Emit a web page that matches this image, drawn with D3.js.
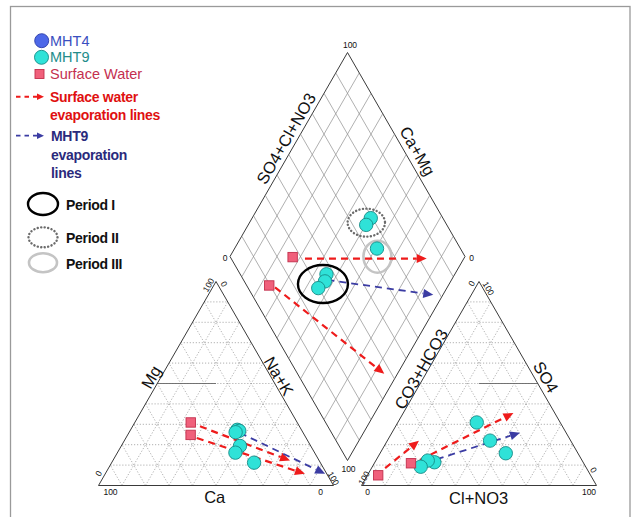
<!DOCTYPE html>
<html>
<head>
<meta charset="utf-8">
<script src="https://cdn.jsdelivr.net/npm/d3@7"></script>
<style>
  html, body { margin: 0; padding: 0; background: #fff; }
  svg { display: block; }
</style>
</head>
<body>
<svg id="piper" width="634" height="517"></svg>
<script>
// ---------------------------------------------------------------
// Data (percent of meq/L)
// ---------------------------------------------------------------
// MHT9 samples, grouped by sampling period
const samplePeriod = ["I", "I", "I", "II", "II", "III"];
const sampleCa   = [27.3, 26.7, 28.6, 30.1, 33.7, 28.2];
const sampleMg   = [27.3, 26.8, 26.1, 19.4, 16.1, 11.2];
const sampleNaK  = [45.4, 46.5, 45.3, 50.5, 50.2, 60.6];
const sampleHCO3 = [63.3, 65.7, 70.2, 30.7, 34.3, 35.5];
const sampleSO4  = [11.4, 12.2,  9.2, 15.8, 22.0, 30.9];
const sampleCl   = [25.3, 22.1, 20.6, 53.5, 43.7, 33.6];

// MHT4 samples (none plotted in this figure)
const mht4Ca = [], mht4Mg = [], mht4NaK = [], mht4HCO3 = [], mht4SO4 = [], mht4Cl = [];

// Surface water samples
const swCa   = [45.3, 48.4];
const swMg   = [30.9, 24.8];
const swNaK  = [23.8, 26.8];
const swHCO3 = [90.4, 73.5];
const swSO4  = [ 5.0, 10.9];
const swCl   = [ 4.6, 15.6];

// Evaporation trends: [start, end]
// cation triangle: [Mg, Na+K]
const cationEvapSW   = [[[29.0, 28.7], [12.2, 75.4]], [[23.3, 30.2], [5.7, 85.0]]];
const cationEvapMHT9 = [[[25.8, 47.3], [5.7, 93.6]]];
// anion triangle: [SO4, Cl+NO3]
const anionEvapSW    = [[[8.5, 5.8], [21.9, 13.5]], [[12.5, 18.6], [35.5, 46.9]]];
const anionEvapMHT9  = [[[12.9, 25.6], [25.9, 54.5]]];
// diamond: [SO4+Cl+NO3, Ca+Mg]
const diamondEvapSW   = [[[31.4, 67.6], [83.2, 15.8]], [[11.6, 73.3], [36.9, 5.6]]];
const diamondEvapMHT9 = [[[35.7, 52.8], [77.1, 4.1]]];

// Sampling periods, centred in diamond space [SO4+Cl+NO3, Ca+Mg]
const periodNames   = ["Period I", "Period II", "Period III"];
const periodCenters = [[32.8, 53.7], [66.3, 50.3], [62.7, 37.2]];

// Axis titles and end labels
const cationTitles  = ["Mg", "Na+K", "Ca"];
const anionTitles   = ["CO3+HCO3", "SO4", "Cl+NO3"];
const diamondTitles = ["SO4+Cl+NO3", "Ca+Mg"];
const endLabels     = ["0", "100"];
const gridSteps     = d3.range(10, 100, 10);

// ---------------------------------------------------------------
// Layout
// ---------------------------------------------------------------
const svg = d3.select("#piper");
const side = 235, tall = 204;
const baseY = 485.5;
const leftX0 = 98.5, rightX0 = 361.5;
const dX = 347.5, dY = 460.5;           // lower vertex of the diamond

const across = d3.scaleLinear().domain([0, 100]).range([0, side]);
const up     = d3.scaleLinear().domain([0, 100]).range([0, tall]);

const cationXY  = (mg, na) => [leftX0 + across(na + mg / 2), baseY - up(mg)];
const anionXY   = (so4, cl) => [rightX0 + across(cl + so4 / 2), baseY - up(so4)];
const diamondXY = (a, c) => [dX + across((a - c) / 2), dY - up(a + c)];

const FONT = "'Liberation Sans', Arial, sans-serif";
const line = d3.line();

// frame
svg.append("rect").attr("x", 10.5).attr("y", 6.5).attr("width", 619.5).attr("height", 520)
  .attr("fill", "none").attr("stroke", "#9a9a9a").attr("stroke-width", 1.3);

const gGrid = svg.append("g");
const gFacies = svg.append("g");
const gFrame = svg.append("g");

// ---- triangle grids (dotted, every 10 %)
function triangleGrid(toXY) {
  gridSteps.forEach(k => {
    // constant vertical component
    gGrid.append("path").attr("d", line([toXY(k, 0), toXY(k, 100 - k)]));
    // constant right-corner component
    gGrid.append("path").attr("d", line([toXY(0, k), toXY(100 - k, k)]));
    // constant left-corner component
    const r = 100 - k;
    gGrid.append("path").attr("d", line([toXY(0, r), toXY(r, 0)]));
  });
}
triangleGrid(cationXY);
triangleGrid(anionXY);
gGrid.selectAll("path").attr("fill", "none").attr("stroke", "#9c9c9c")
  .attr("stroke-width", 0.8).attr("stroke-dasharray", "1.2,1.8");

// ---- diamond grid (solid, every 10 %)
const gDiaGrid = svg.append("g");
gridSteps.forEach(k => {
  gDiaGrid.append("path").attr("d", line([diamondXY(k, 0), diamondXY(k, 100)]));
  gDiaGrid.append("path").attr("d", line([diamondXY(0, k), diamondXY(100, k)]));
});
gDiaGrid.selectAll("path").attr("fill", "none").attr("stroke", "#8e8e8e").attr("stroke-width", 0.7);

// ---- half facies lines at 50 %
gFacies.append("path").attr("d", line([cationXY(50, 0), cationXY(50, 25)]));
gFacies.append("path").attr("d", line([anionXY(50, 25), anionXY(50, 50)]));
gFacies.selectAll("path").attr("fill", "none").attr("stroke", "#666").attr("stroke-width", 0.9);

// ---- outlines
gFrame.append("path").attr("d", line([cationXY(0, 0), cationXY(0, 100), cationXY(100, 0)]) + "Z");
gFrame.append("path").attr("d", line([anionXY(0, 0), anionXY(0, 100), anionXY(100, 0)]) + "Z");
gFrame.append("path").attr("d", line([diamondXY(0, 0), diamondXY(100, 0), diamondXY(100, 100), diamondXY(0, 100)]) + "Z");
gFrame.selectAll("path").attr("fill", "none").attr("stroke", "#3a3a3a").attr("stroke-width", 1);

// ---- axis titles
const gText = svg.append("g").attr("font-family", FONT).attr("fill", "#111");
function label(txt, x, y, rot, size) {
  gText.append("text").attr("transform", `translate(${x},${y}) rotate(${rot})`)
    .attr("text-anchor", "middle").attr("dominant-baseline", "central")
    .attr("font-size", size).text(txt);
}
label(cationTitles[0], 151, 377, -60, 16.5);
label(cationTitles[1], 279, 376, 60, 16.5);
label(cationTitles[2], 214.7, 497, 0, 16.5);
label(anionTitles[0], 421, 369, -60, 16.5);
label(anionTitles[1], 546, 377, 60, 16.5);
label(anionTitles[2], 478.7, 497.5, 0, 16.5);
label(diamondTitles[0], 286, 138.5, -60, 16.5);
label(diamondTitles[1], 417.5, 151, 60, 16.5);

// ---- end labels
const tick = (i, x, y, rot) => label(endLabels[i], x, y, rot, 8.5);
// cation triangle
tick(1, 110.5, 491.5, 0); tick(0, 320.5, 491.5, 0);
tick(0, 98.5, 473.5, -60); tick(1, 333.5, 478.5, 60);
tick(1, 208.5, 285, -60); tick(0, 224, 284, 60);
// anion triangle
tick(0, 367.5, 491.5, 0); tick(1, 589, 491.5, 0);
tick(1, 364, 478, -60); tick(0, 593.5, 470, 60);
tick(0, 471.5, 283.5, -60); tick(1, 488.5, 288.5, 60);
// diamond
tick(1, 350, 44.5, 0); tick(0, 225, 257.5, 0);
tick(0, 471.5, 257.5, 0); tick(1, 348.5, 469, 0);

// ---- period ellipses
const periodStyles = [
  { rx: 25, ry: 19, stroke: "#000", width: 2.4, dash: null },
  { rx: 18.7, ry: 14, stroke: "#6b6b6b", width: 2.4, dash: "0.1,3.4" },
  { rx: 14, ry: 16, stroke: "#c4c4c4", width: 2.6, dash: null }
];
periodCenters.forEach((c, i) => {
  const [x, y] = diamondXY(c[0], c[1]);
  const st = periodStyles[i];
  svg.append("ellipse").attr("cx", x).attr("cy", y).attr("rx", st.rx).attr("ry", st.ry)
    .attr("fill", "none").attr("stroke", st.stroke).attr("stroke-width", st.width)
    .attr("stroke-linecap", "round").attr("stroke-dasharray", st.dash);
});

// ---- evaporation arrows
const RED = "#ee1b1b", NAVY = "#3b3ca3";
function arrow(g, p0, p1, color, width, head, halfW) {
  const dx = p1[0] - p0[0], dy = p1[1] - p0[1];
  const len = Math.hypot(dx, dy), ux = dx / len, uy = dy / len;
  const bx = p1[0] - ux * head, by = p1[1] - uy * head;
  g.append("path").attr("d", line([p0, [bx, by]]))
    .attr("stroke", color).attr("stroke-width", width).attr("fill", "none")
    .attr("stroke-dasharray", "7,5");
  g.append("path").attr("d", line([p1, [bx - uy * halfW, by + ux * halfW], [bx + uy * halfW, by - ux * halfW]]) + "Z")
    .attr("fill", color).attr("stroke", "none");
}
const gArrows = svg.append("g");
const drawSet = (set, toXY, color, w) => set.forEach(([a, b]) =>
  arrow(gArrows, toXY(a[0], a[1]), toXY(b[0], b[1]), color, w, 10, 4.5));
drawSet(cationEvapSW, cationXY, RED, 2.2);
drawSet(cationEvapMHT9, cationXY, NAVY, 1.8);
drawSet(anionEvapSW, anionXY, RED, 2.2);
drawSet(anionEvapMHT9, anionXY, NAVY, 1.8);
drawSet(diamondEvapSW, diamondXY, RED, 2.2);
drawSet(diamondEvapMHT9, diamondXY, NAVY, 1.8);

// ---- samples
const CYAN = "#2fe2d8", CYAN_EDGE = "#168b87";
const BLUE = "#4d68e8", BLUE_EDGE = "#2b3ca8";
const PINK = "#f0607b", PINK_EDGE = "#c22f4c";
const gPts = svg.append("g");

function plotCircles(ca, mg, na, hco3, so4, cl, fill, edge) {
  ca.forEach((_, i) => {
    const pts = [cationXY(mg[i], na[i]), anionXY(so4[i], cl[i]),
                 diamondXY(so4[i] + cl[i], ca[i] + mg[i])];
    pts.forEach(p => gPts.append("circle").attr("cx", p[0]).attr("cy", p[1]).attr("r", 6.7)
      .attr("fill", fill).attr("stroke", edge).attr("stroke-width", 0.9));
  });
}
plotCircles(mht4Ca, mht4Mg, mht4NaK, mht4HCO3, mht4SO4, mht4Cl, BLUE, BLUE_EDGE);
plotCircles(sampleCa, sampleMg, sampleNaK, sampleHCO3, sampleSO4, sampleCl, CYAN, CYAN_EDGE);

swCa.forEach((_, i) => {
  const pts = [cationXY(swMg[i], swNaK[i]), anionXY(swSO4[i], swCl[i]),
               diamondXY(swSO4[i] + swCl[i], swCa[i] + swMg[i])];
  pts.forEach(p => gPts.append("rect").attr("x", p[0] - 4.7).attr("y", p[1] - 4.7)
    .attr("width", 9.4).attr("height", 9.4)
    .attr("fill", PINK).attr("stroke", PINK_EDGE).attr("stroke-width", 0.9));
});

// ---------------------------------------------------------------
// Legend
// ---------------------------------------------------------------
const gLeg = svg.append("g").attr("font-family", FONT);
gLeg.append("circle").attr("cx", 41.7).attr("cy", 40.7).attr("r", 7)
  .attr("fill", BLUE).attr("stroke", BLUE_EDGE).attr("stroke-width", 0.9);
gLeg.append("text").attr("x", 50).attr("y", 45.7).attr("font-size", 14.5).attr("fill", "#3a4fc0").text("MHT4");
gLeg.append("circle").attr("cx", 41.5).attr("cy", 57.3).attr("r", 7)
  .attr("fill", CYAN).attr("stroke", CYAN_EDGE).attr("stroke-width", 0.9);
gLeg.append("text").attr("x", 50).attr("y", 62.3).attr("font-size", 14.5).attr("fill", "#238c8a").text("MHT9");
gLeg.append("rect").attr("x", 35).attr("y", 69.5).attr("width", 9).attr("height", 9)
  .attr("fill", PINK).attr("stroke", PINK_EDGE).attr("stroke-width", 0.9);
gLeg.append("text").attr("x", 50).attr("y", 79).attr("font-size", 14.5).attr("fill", "#c4304f").text("Surface Water");

function legendArrow(y, color, w) {
  gLeg.append("path").attr("d", line([[16, y], [37, y]])).attr("stroke", color)
    .attr("stroke-width", w).attr("stroke-dasharray", "4.5,4").attr("fill", "none");
  gLeg.append("path").attr("d", line([[44, y], [37, y - 3.3], [37, y + 3.3]]) + "Z").attr("fill", color);
}
legendArrow(96.7, RED, 2);
gLeg.append("text").attr("x", 50).attr("y", 101.5).attr("font-size", 14).attr("font-weight", "bold")
  .attr("fill", "#e01010").attr("letter-spacing", -0.3).text("Surface water");
gLeg.append("text").attr("x", 50).attr("y", 120).attr("font-size", 14).attr("font-weight", "bold")
  .attr("fill", "#e01010").attr("letter-spacing", -0.3).text("evaporation lines");
legendArrow(135.7, NAVY, 1.8);
["MHT9", "evaporation", "lines"].forEach((t, i) =>
  gLeg.append("text").attr("x", 51).attr("y", 141 + i * 18.5).attr("font-size", 14).attr("font-weight", "bold")
    .attr("fill", "#2a2a7c").attr("letter-spacing", -0.3).text(t));

const legendPeriodY = [204, 237.3, 262.7];
const legendPeriodR = [[15, 11], [14.5, 10], [14, 9.5]];
periodNames.forEach((name, i) => {
  const st = periodStyles[i];
  gLeg.append("ellipse").attr("cx", 43).attr("cy", legendPeriodY[i])
    .attr("rx", legendPeriodR[i][0]).attr("ry", legendPeriodR[i][1])
    .attr("fill", "none").attr("stroke", st.stroke).attr("stroke-width", st.width)
    .attr("stroke-linecap", "round").attr("stroke-dasharray", st.dash);
  gLeg.append("text").attr("x", 66).attr("y", legendPeriodY[i] + 6).attr("font-size", 14)
    .attr("font-weight", "bold").attr("fill", "#111").attr("letter-spacing", -0.3).text(name);
});
</script>
</body>
</html>
